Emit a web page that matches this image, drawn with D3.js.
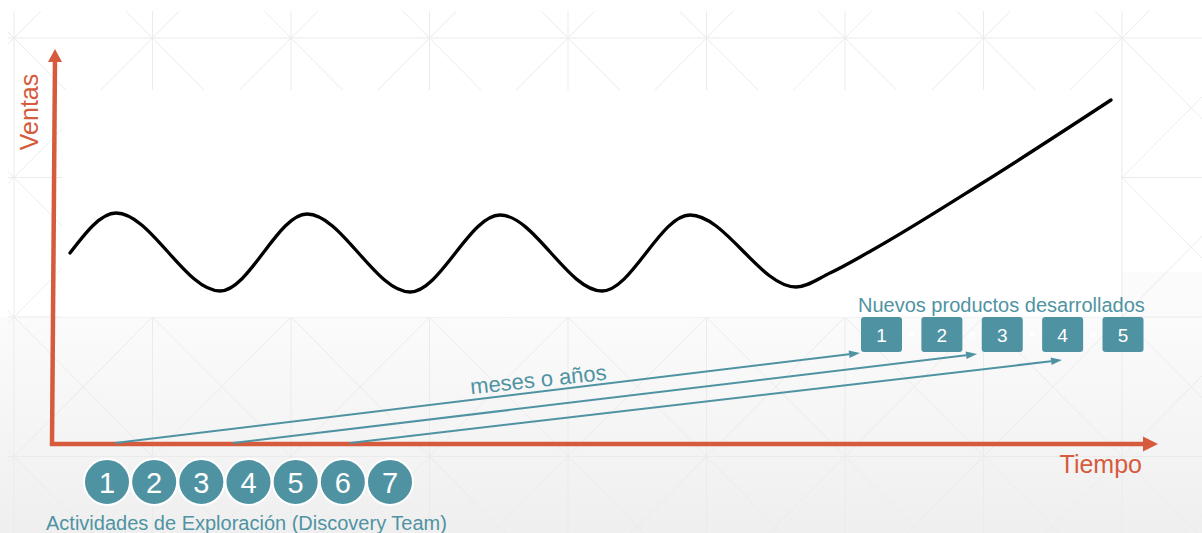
<!DOCTYPE html>
<html><head><meta charset="utf-8">
<script src="https://cdn.jsdelivr.net/npm/d3@7"></script>
<style>html,body{margin:0;padding:0;background:#fff;} svg{display:block;font-family:"Liberation Sans",Arial,sans-serif;}</style>
</head><body>
<script>
// ---- data (time units / sales units) ----
const salesTime  = [1.8, 6.4, 16.8, 25.5, 35.8, 44.8, 55.0, 63.8, 74.4, 77.8, 81.7, 93.2, 105.9];
const salesValue = [19.1, 23.1, 15.3, 23.0, 15.2, 22.9, 15.3, 22.9, 15.7, 17.1, 19.2, 26.2, 34.4];
const activities = ["1","2","3","4","5","6","7"];
const products   = ["1","2","3","4","5"];
const arrowStartTime = [6.3, 18.1, 29.8];
const arrowEndTime   = [80.8, 92.5, 101.0];
const arrowEndValue  = [9.1, 9.0, 8.4];
const activitySpan = [5.5, 33.8];
const productSpan  = [82.95, 107.1];
const yLabel = "Ventas";
const xLabel = "Tiempo";
const activityLabel = "Actividades de Exploración (Discovery Team)";
const productLabel = "Nuevos productos desarrollados";
const arrowLabel = "meses o años";

const W = 1202, H = 533;
const ORANGE = "#d65b3d", TEAL = "#4f93a3";
const svg = d3.select("body").append("svg").attr("width", W).attr("height", H);

const x = d3.scaleLinear().domain([0, 110]).range([52, 1152]);
const y = d3.scaleLinear().domain([0, 40]).range([444, 44]);

// ---- background ----
const defs = svg.append("defs");
const g1 = defs.append("linearGradient").attr("id","bg").attr("x1",0).attr("y1",0).attr("x2",0).attr("y2",1);
g1.append("stop").attr("offset","0%").attr("stop-color","#fbfbfb");
g1.append("stop").attr("offset","100%").attr("stop-color","#efefef");
defs.append("clipPath").attr("id","pclip").append("rect").attr("x",8).attr("y",11).attr("width",W-8).attr("height",H-11);

svg.append("rect").attr("width",W).attr("height",H).attr("fill","#fff");
svg.append("rect").attr("x",0).attr("y",317).attr("width",W).attr("height",H-317).attr("fill","url(#bg)");
svg.append("rect").attr("x",1121).attr("y",272).attr("width",W-1121).attr("height",45).attr("fill","#fbfbfb");

const pat = svg.append("g").attr("clip-path","url(#pclip)").attr("stroke","#ebebeb").attr("stroke-width",1).attr("fill","none");
const px0 = 14, pdx = 138.5, py0 = 38, pdy = 139.5;
for (let j = -1; j <= 4; j++) {
  const yy = py0 + j*pdy;
  pat.append("line").attr("x1",0).attr("x2",W).attr("y1",yy).attr("y2",yy);
}
for (let i = -1; i <= 9; i++) {
  const xx = px0 + i*pdx;
  pat.append("line").attr("x1",xx).attr("x2",xx).attr("y1",0).attr("y2",H);
  for (let j = -1; j <= 4; j++) {
    const ya = py0 + j*pdy, yb = ya + pdy;
    pat.append("line").attr("x1",xx).attr("y1",ya).attr("x2",xx+pdx).attr("y2",yb);
    pat.append("line").attr("x1",xx+pdx).attr("y1",ya).attr("x2",xx).attr("y2",yb);
  }
}
svg.append("rect").attr("x",62).attr("y",90).attr("width",1121-62).attr("height",317-90).attr("fill","#fff");

// ---- axes ----
svg.append("line").attr("x1",x(0)).attr("y1",y(0)+2).attr("x2",x(0)+3).attr("y2",y(38.6))
  .attr("stroke",ORANGE).attr("stroke-width",4.5);
svg.append("path").attr("fill",ORANGE)
  .attr("d",`M${x(0)+3},${y(39.5)} L${x(0)+10},${y(38.2)} L${x(0)-4},${y(38.2)} Z`);
svg.append("line").attr("x1",x(0)-2).attr("y1",y(0)).attr("x2",x(109.3)).attr("y2",y(0))
  .attr("stroke",ORANGE).attr("stroke-width",4.5);
svg.append("path").attr("fill",ORANGE)
  .attr("d",`M${x(110.6)},${y(0)} L${x(109.1)},${y(0)-7.5} L${x(109.1)},${y(0)+7.5} Z`);

svg.append("text").text(yLabel).attr("transform",`translate(${x(0)-14},${y(33.2)}) rotate(-90)`)
  .attr("text-anchor","middle").attr("font-size",25).attr("fill",ORANGE);
svg.append("text").text(xLabel).attr("x",x(109.0)).attr("y",y(0)+29)
  .attr("text-anchor","end").attr("font-size",25).attr("fill",ORANGE);

// ---- sales curve ----
const pts = salesTime.map((t,i)=>[t, salesValue[i]]);
svg.append("path").datum(pts)
  .attr("d", d3.line().x(d=>x(d[0])).y(d=>y(d[1])).curve(d3.curveMonotoneX))
  .attr("fill","none").attr("stroke","#000").attr("stroke-width",3.3).attr("stroke-linecap","round");

// ---- arrows ----
const arrows = arrowStartTime.map((t,i)=>({x1:x(t), y1:y(0), x2:x(arrowEndTime[i]), y2:y(arrowEndValue[i])}));
const ag = svg.append("g");
arrows.forEach(a=>{
  const ang = Math.atan2(a.y2-a.y1, a.x2-a.x1);
  const L = 11, hw = 3.8;
  const bx = a.x2 - L*Math.cos(ang), by = a.y2 - L*Math.sin(ang);
  ag.append("line").attr("x1",a.x1).attr("y1",a.y1-1).attr("x2",bx).attr("y2",by)
    .attr("stroke",TEAL).attr("stroke-width",2);
  const nx = -Math.sin(ang)*hw, ny = Math.cos(ang)*hw;
  ag.append("path").attr("fill",TEAL)
    .attr("d",`M${a.x2},${a.y2} L${bx+nx},${by+ny} L${bx-nx},${by-ny} Z`);
});
{
  const a = arrows[0];
  const ang = Math.atan2(a.y2-a.y1, a.x2-a.x1)*180/Math.PI;
  svg.append("text").text(arrowLabel)
    .attr("transform",`translate(${x(48.7)},${y(5.7)}) rotate(${ang+0.8})`)
    .attr("text-anchor","middle").attr("font-size",22).attr("fill",TEAL);
}

// ---- activity circles ----
const aScale = d3.scalePoint().domain(activities).range(activitySpan.map(x));
const cy = y(0) + 38;
const cg = svg.append("g");
cg.selectAll("circle").data(activities).join("circle")
  .attr("cx",d=>aScale(d)).attr("cy",cy).attr("r",23)
  .attr("fill",TEAL).attr("stroke","#fff").attr("stroke-width",2);
cg.selectAll("text").data(activities).join("text")
  .attr("x",d=>aScale(d)).attr("y",cy+10.5).text(d=>d)
  .attr("text-anchor","middle").attr("font-size",29).attr("fill","#fff");
svg.append("text").text(activityLabel).attr("x",46).attr("y",530)
  .attr("font-size",20).attr("fill",TEAL);

// ---- product squares ----
const pScale = d3.scalePoint().domain(products).range(productSpan.map(x));
const sqTop = y(12.7), sqW = 41, sqH = 35;
const pg = svg.append("g");
products.slice(0,-1).forEach((d,i)=>{
  pg.append("circle").attr("cx",(pScale(d)+pScale(products[i+1]))/2).attr("cy",sqTop+sqH/2).attr("r",2.5).attr("fill","#fff");
});
pg.selectAll("rect").data(products).join("rect")
  .attr("x",d=>pScale(d)-sqW/2).attr("y",sqTop).attr("width",sqW).attr("height",sqH).attr("rx",3)
  .attr("fill",TEAL);
pg.selectAll("text").data(products).join("text")
  .attr("x",d=>pScale(d)).attr("y",sqTop+sqH/2+7).text(d=>d)
  .attr("text-anchor","middle").attr("font-size",19).attr("fill","#fff");
svg.append("text").text(productLabel).attr("x",x(80.6)).attr("y",312)
  .attr("font-size",20).attr("fill",TEAL);
</script>
</body></html>
